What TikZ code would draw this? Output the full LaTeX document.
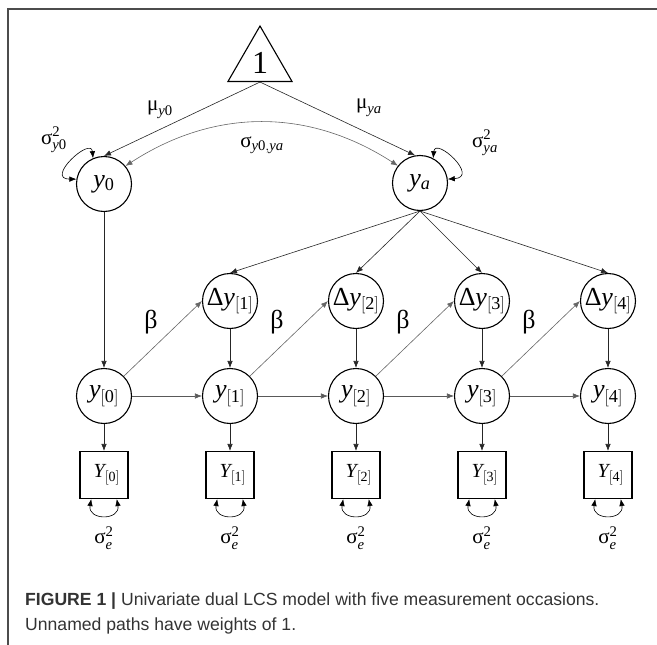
\documentclass[tikz,border=0pt]{standalone}
\usepackage{fontspec}
\setmainfont{Liberation Serif}
\setsansfont{Liberation Sans}
\usetikzlibrary{arrows.meta,shapes.geometric}
\begin{document}
\begin{tikzpicture}[x=1pt,y=1pt,>={Latex[length=7pt,width=5.5pt]}]
	\tikzstyle{latent_style} = [circle, draw, line width=1.1pt, minimum size=55pt, inner sep=0pt, font=\fontsize{26}{26}\selectfont]
	\tikzstyle{obs_style} = [rectangle, draw, line width=1.1pt, minimum width=48pt, minimum height=47pt, inner sep=0pt, font=\fontsize{20}{20}\selectfont]
	\tikzstyle{path_style} = [->, line width=0.6pt, draw=black!85]
	\tikzstyle{lbl_style} = [font=\fontsize{21}{21}\selectfont, inner sep=0pt]
	\tikzstyle{beta_style} = [font=\fontsize{26}{26}\selectfont, inner sep=0pt]
	\tikzstyle{cap_style} = [font=\fontsize{17.6}{17.6}\selectfont\sffamily, text=black!80, inner sep=0pt, anchor=base west]
	\useasboundingbox (0,0) rectangle (657,-645);
	\draw[line width=1.4pt, black!70] (657,-9) -- (8,-9) -- (8,-645);
	%%%
	\node[regular polygon, regular polygon sides=3, draw, line width=1.1pt, minimum size=74pt, inner sep=0pt, font=\fontsize{32}{32}\selectfont] (one) at (260,-63) {1};
	\node[latent_style] (y0) at (104,-184) {$\mathit{y}_{\mathrm{0}}$};
	\node[latent_style] (ya) at (420,-183) {$\mathit{y}_{\mathit{a}}$};
	\draw[path_style] (one.south) -- (y0.north);
	\draw[path_style] (one.south) -- (ya.100);
	\draw[<->, line width=0.6pt, draw=black!60] (y0.40) to[bend left=33] (ya.142);
	\draw[<->, line width=0.6pt] (y0.113) .. controls +(-2,22) and +(-32,0) .. (y0.170);
	\draw[<->, line width=0.6pt] (ya.62) .. controls +(2,22) and +(32,2) .. (ya.8);
	\node[lbl_style] (mu-y0) at (160,-110) {$\mbox{μ}_{\mathit{y}\mathrm{0}}$};
	\node[lbl_style] (mu-ya) at (369,-108) {$\mbox{μ}_{\mathit{ya}}$};
	\node[lbl_style] (var-y0) at (54,-140) {$\mbox{σ}^{\mathrm{2}}_{\mathit{y}\mathrm{0}}$};
	\node[lbl_style] (var-ya) at (485,-143) {$\mbox{σ}^{\mathrm{2}}_{\mathit{ya}}$};
	\node[lbl_style] (cov) at (262,-145) {$\mbox{σ}_{\mathit{y}\mathrm{0},\mathit{ya}}$};
	%%%
	\foreach[count=\i from 0] \x in {104,230,356,482,608}{
		\node[latent_style] (y-\i) at (\x,-396) {$\mathit{y}_{\mathrm{[\i]}}$};
		\node[obs_style] (Y-\i) at (\x,-475) {$\;\mathit{Y}_{\mathrm{[\i]}}$};
		\node[lbl_style] (e-\i) at (\x,-538) {$\mbox{σ}^{\mathrm{2}}_{\mathit{e}}$};
		\draw[path_style] (y-\i) -- (Y-\i);
		\draw[<->, line width=0.6pt] (Y-\i.-118) to[out=-100, in=-80, looseness=2.2] (Y-\i.-62);
	}
	\draw[path_style] (y0) -- (y-0);
	\foreach[count=\i] \x in {230,356,482,608}{
		\node[latent_style] (dy-\i) at (\x,-301) {$\mbox{Δ}\mathit{y}_{\mathrm{[\i]}}$};
		\draw[path_style] (ya.south) -- (dy-\i.north);
		\draw[path_style] (dy-\i) -- (y-\i);
	}
	\foreach \i in {1,...,4}{
		\pgfmathtruncatemacro{\j}{\i-1}
		\draw[path_style, draw=black!65] (y-\j) -- (y-\i);
		\draw[path_style, draw=black!60] (y-\j.north east) -- (dy-\i.west);
		\path (y-\j.center) ++(47,74) node[beta_style] (b-\i) {β};
	}
	%%%
	\node[cap_style] (cap-1) at (25,-605) {\textbf{FIGURE 1 |} Univariate dual LCS model with five measurement occasions.};
	\node[cap_style] (cap-2) at (25,-630) {Unnamed paths have weights of 1.};
\end{tikzpicture}
\end{document}
